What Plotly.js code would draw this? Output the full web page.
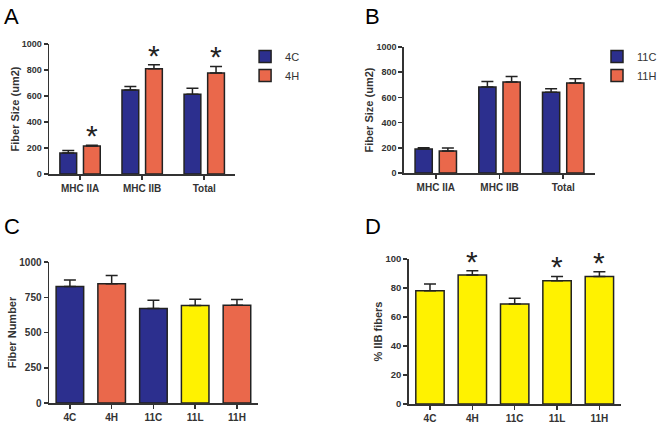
<!DOCTYPE html>
<html>
<head>
<meta charset="utf-8">
<script src="https://cdn.plot.ly/plotly-3.0.1.min.js"></script>
<style>html,body{margin:0;padding:0;background:#fff;}#chart{width:662px;height:422px;}</style>
</head>
<body>
<div id="chart"></div>
<script>
// ---- data ----
const fiberTypes = ["MHC IIA", "MHC IIB", "Total"];
const sizeA_4C = [162, 647, 613];
const semA_4C = [18, 26, 47];
const sizeA_4H = [216, 809, 776];
const semA_4H = [6, 31, 51];
const sigA_4H = [true, true, true];

const sizeB_11C = [190, 683, 640];
const semB_11C = [11, 44, 29];
const sizeB_11H = [175, 722, 714];
const semB_11H = [23, 43, 35];

const groups = ["4C", "4H", "11C", "11L", "11H"];
const fiberNumber = [827, 846, 670, 691, 694];
const semNumber = [45, 59, 59, 45, 40];

const pctIIB = [78.1, 88.9, 68.9, 85.0, 88.0];
const semPct = [4.6, 3.0, 4.1, 3.0, 3.2];
const sigPct = [false, true, false, true, true];

// ---- styles ----
const BLUE = "#2c2f8e", ORANGE = "#ea684b", YELLOW = "#fff200", EDGE = "#222222";
const groupColors = {"4C": BLUE, "4H": ORANGE, "11C": BLUE, "11L": YELLOW, "11H": ORANGE};
const FONT = "Liberation Sans, Arial, sans-serif";

function errBar(sem) {
  return {type: "data", symmetric: false, array: sem, arrayminus: sem.map(() => 0),
          color: EDGE, thickness: 1.5, width: 6};
}
function barTrace(x, y, sem, color, name, xa, ya, opts) {
  return Object.assign({
    type: "bar", x: x, y: y, name: name, xaxis: xa, yaxis: ya,
    marker: {color: color, line: {color: EDGE, width: 1.5}},
    error_y: errBar(sem), hoverinfo: "x+y"
  }, opts || {});
}

const W = 0.27;
const data = [
  barTrace(fiberTypes, sizeA_4C, semA_4C, BLUE, "4C", "x", "y", {width: W, offset: -0.325, legend: "legend"}),
  barTrace(fiberTypes, sizeA_4H, semA_4H, ORANGE, "4H", "x", "y", {width: W, offset: 0.055, legend: "legend"}),
  barTrace(fiberTypes, sizeB_11C, semB_11C, BLUE, "11C", "x2", "y2", {width: W, offset: -0.325, legend: "legend2"}),
  barTrace(fiberTypes, sizeB_11H, semB_11H, ORANGE, "11H", "x2", "y2", {width: W, offset: 0.055, legend: "legend2"}),
  barTrace(groups, fiberNumber, semNumber, groups.map(g => groupColors[g]), "Fiber Number", "x3", "y3", {width: 0.66, showlegend: false}),
  barTrace(groups, pctIIB, semPct, groups.map(() => YELLOW), "% IIB", "x4", "y4", {width: 0.67, showlegend: false})
];

const tickFontY = {family: FONT, size: 9, color: "#333", weight: "bold"};
const tickFontX = {family: FONT, size: 10, color: "#333", weight: "bold"};
const titleFont = {family: FONT, size: 11, color: "#333", weight: "bold"};

function xAxis(domain, anchor, n) {
  return {domain: domain, anchor: anchor, type: "category", range: [-0.5, n - 0.5],
    showline: true, linecolor: "#333", linewidth: 1.5, ticks: "outside", ticklen: 4,
    tickcolor: "#333", tickwidth: 1.5, tickfont: tickFontX, showgrid: false, zeroline: false, fixedrange: true};
}
function yAxis(domain, anchor, max, dtick, title, fontSize) {
  return {domain: domain, anchor: anchor, range: [0, max], dtick: dtick, tick0: 0,
    showline: true, linecolor: "#333", linewidth: 1.5, ticks: "outside", ticklen: 4,
    tickcolor: "#333", tickwidth: 1.5, tickfont: Object.assign({}, tickFontY, {size: fontSize}),
    showgrid: false, zeroline: false, fixedrange: true,
    title: {text: title, font: titleFont, standoff: 0}};
}

const annotations = [];
function letter(t, x, y) {
  annotations.push({text: t, xref: "paper", yref: "paper", x: x / 662, y: 1 - y / 422,
    xanchor: "left", yanchor: "top", showarrow: false,
    font: {family: FONT, size: 22, color: "#000"}});
}
letter("A", 2, 2); letter("B", 370, 2); letter("C", 2, 212); letter("D", 370, 212);

function star(xa, ya, x, y) {
  annotations.push({text: "*", xref: xa, yref: ya, x: x, y: y, xanchor: "center", yanchor: "bottom",
    showarrow: false, yshift: -9, font: {family: FONT, size: 30, color: "#222"}});
}
sigA_4H.forEach((s, i) => { if (s) star("x", "y", i + 0.055 + W / 2, sizeA_4H[i] + semA_4H[i]); });
sigPct.forEach((s, i) => { if (s) star("x4", "y4", i, pctIIB[i] + semPct[i]); });

const legendBase = {xanchor: "left", yanchor: "top", font: {family: FONT, size: 11, color: "#333"},
  bgcolor: "rgba(0,0,0,0)", tracegroupgap: 0, itemclick: false, itemdoubleclick: false, itemwidth: 30};

const layout = {
  width: 662, height: 422, margin: {l: 0, r: 0, t: 0, b: 0},
  paper_bgcolor: "#fff", plot_bgcolor: "#fff", showlegend: true, barmode: "overlay",
  xaxis: xAxis([50 / 662, 240 / 662], "y", 3),
  yaxis: yAxis([1 - 174 / 422, 1 - 44 / 422], "x", 1000, 200, "Fiber Size (um2)", 9),
  xaxis2: xAxis([412 / 662, 607 / 662], "y2", 3),
  yaxis2: yAxis([1 - 173 / 422, 1 - 47 / 422], "x2", 1000, 200, "Fiber Size (um2)", 9),
  xaxis3: xAxis([50 / 662, 263 / 662], "y3", 5),
  yaxis3: yAxis([1 - 403 / 422, 1 - 262 / 422], "x3", 1000, 250, "Fiber Number", 10),
  xaxis4: xAxis([417 / 662, 633 / 662], "y4", 5),
  yaxis4: yAxis([1 - 404 / 422, 1 - 259 / 422], "x4", 100, 20, "% IIB fibers", 9.5),
  legend: Object.assign({x: 250 / 662, y: 1 - 42 / 422}, legendBase),
  legend2: Object.assign({x: 609 / 662, y: 1 - 42 / 422}, legendBase),
  annotations: annotations
};

Plotly.newPlot("chart", data, layout, {displayModeBar: false, staticPlot: true});
</script>
</body>
</html>
